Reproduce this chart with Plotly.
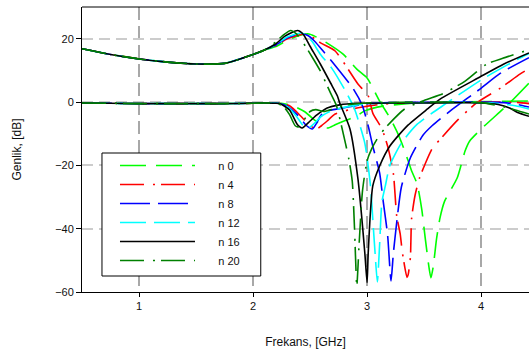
import plotly.graph_objects as go

# Shared low-frequency part of every curve (GHz, dB)
F_COMMON = [0.5, 0.75, 1.0, 1.25, 1.5, 1.75, 2.0, 2.1]
UP_COMMON = [16.8, 15.0, 13.6, 12.6, 12.0, 12.2, 15.0, 16.4]
LOW_COMMON = [-0.3, -0.4, -0.5, -0.5, -0.5, -0.5, -0.4, -0.3]

# Upper response (transmission) per n
f_up_n0 = [2.2, 2.3, 2.42, 2.49, 2.54, 2.65, 2.79, 2.91, 3.0, 3.11, 3.2, 3.27, 3.33, 3.39, 3.44, 3.48,
           3.51, 3.56, 3.58, 3.61, 3.64, 3.68, 3.79, 3.86, 3.9, 4.01, 4.25, 4.42]
db_up_n0 = [17.5, 19.5, 21.2, 21.5, 20.8, 18.6, 15.1, 10.4, 7.6, 0.3, -5.0, -10.0, -15.4, -21.7, -26.0, -34.0,
            -43.0, -55.5, -52.0, -43.0, -36.5, -31.3, -24.0, -15.4, -12.3, -8.2, -0.3, 6.0]

f_up_n4 = [2.2, 2.3, 2.44, 2.52, 2.6, 2.72, 2.92, 3.01, 3.05, 3.13, 3.18, 3.23, 3.26, 3.29, 3.31, 3.35,
           3.36, 3.38, 3.39, 3.42, 3.46, 3.51, 3.57, 3.64, 3.8, 3.96, 4.17, 4.34, 4.42]
db_up_n4 = [17.8, 20.0, 21.4, 20.5, 18.5, 16.1, 5.7, 1.9, -3.5, -8.5, -13.9, -22.4, -36.0, -41.6, -47.6, -55.4,
            -54.6, -49.0, -37.0, -29.6, -24.0, -19.5, -14.8, -11.8, -5.5, -0.3, 4.4, 8.8, 10.5]

f_up_n8 = [2.2, 2.3, 2.42, 2.48, 2.54, 2.63, 2.69, 2.88, 2.96, 3.01, 3.05, 3.11, 3.14, 3.18, 3.21,
           3.23, 3.26, 3.3, 3.38, 3.49, 3.57, 3.73, 3.99, 4.17, 4.42]
db_up_n8 = [18.0, 20.3, 21.6, 21.0, 19.2, 15.4, 12.9, 4.1, -1.3, -7.6, -13.9, -22.4, -31.0, -42.0, -56.5,
            -48.0, -38.0, -27.0, -17.6, -10.5, -7.5, -2.8, 4.1, 9.1, 14.0]

f_up_n12 = [2.2, 2.3, 2.42, 2.47, 2.52, 2.59, 2.69, 2.81, 2.89, 2.98, 3.03, 3.05, 3.07, 3.09,
            3.11, 3.13, 3.16, 3.2, 3.3, 3.44, 3.7, 4.01, 4.32, 4.42]
db_up_n12 = [18.2, 20.5, 21.8, 21.0, 19.0, 15.1, 10.7, 3.5, -2.2, -13.0, -26.5, -37.0, -47.6, -56.8,
             -45.0, -31.6, -26.5, -20.0, -13.0, -7.0, -0.3, 7.2, 13.5, 15.3]

f_up_n16 = [2.2, 2.28, 2.39, 2.44, 2.5, 2.59, 2.68, 2.74, 2.76, 2.85, 2.92, 2.98, 3.0,
            3.01, 3.05, 3.11, 3.2, 3.35, 3.53, 3.64, 3.99, 4.2, 4.42]
db_up_n16 = [18.4, 20.8, 22.6, 21.4, 17.6, 12.0, 6.0, 1.9, -0.3, -8.5, -24.3, -47.6, -57.0,
             -47.6, -26.5, -20.2, -13.9, -7.6, -2.2, 0.9, 7.9, 12.0, 15.5]

f_up_n20 = [2.2, 2.27, 2.33, 2.38, 2.46, 2.53, 2.59, 2.68, 2.73, 2.81, 2.84, 2.87, 2.89, 2.91,
            2.93, 2.96, 3.0, 3.04, 3.1, 3.16, 3.33, 3.5, 3.67, 3.86, 4.05, 4.19, 4.42]
db_up_n20 = [19.0, 21.3, 22.6, 21.5, 17.6, 13.5, 9.8, 2.8, -1.0, -13.0, -18.0, -25.0, -40.0, -58.0,
             -45.0, -28.0, -18.6, -14.8, -11.0, -8.2, -2.2, 0.5, 2.7, 6.6, 12.0, 13.8, 16.5]

# Lower response (reflection) per n
f_low_n0 = [2.25, 2.35, 2.45, 2.55, 2.62, 2.66, 2.72, 2.82, 2.9, 2.98, 3.14, 3.4, 3.8, 4.42]
db_low_n0 = [-0.4, -1.2, -3.0, -6.0, -8.0, -8.2, -7.2, -5.7, -4.6, -2.8, -1.3, -0.4, 0.0, 0.3]

f_low_n4 = [2.22, 2.32, 2.42, 2.5, 2.56, 2.6, 2.65, 2.72, 2.85, 2.96, 3.1, 3.3, 4.3, 4.42]
db_low_n4 = [-0.4, -1.2, -4.5, -7.5, -8.5, -7.5, -6.0, -3.8, -2.4, -1.6, -0.8, -0.3, -0.1, -0.5]

f_low_n8 = [2.22, 2.3, 2.4, 2.47, 2.52, 2.56, 2.6, 2.66, 2.8, 2.98, 3.2, 4.2, 4.35, 4.42]
db_low_n8 = [-0.4, -1.3, -4.5, -7.5, -8.5, -6.5, -4.0, -2.8, -1.8, -0.6, -0.2, -0.2, -1.0, -1.6]

f_low_n12 = [2.22, 2.3, 2.38, 2.44, 2.48, 2.53, 2.6, 2.7, 2.85, 3.0, 3.3, 4.1, 4.3, 4.42]
db_low_n12 = [-0.4, -1.5, -4.5, -7.5, -8.3, -7.0, -4.5, -2.6, -1.3, -0.6, -0.3, -0.3, -1.2, -2.2]

f_low_n16 = [2.2, 2.24, 2.32, 2.39, 2.43, 2.5, 2.56, 2.65, 2.76, 2.91, 3.5, 4.0, 4.15, 4.25, 4.32, 4.42]
db_low_n16 = [-0.4, -0.6, -2.5, -7.2, -8.2, -6.0, -4.1, -1.9, -0.9, -0.4, -0.3, -0.3, -0.8, -1.9, -3.3, -4.5]

f_low_n20 = [2.2, 2.26, 2.32, 2.37, 2.4, 2.45, 2.5, 2.55, 2.62, 2.7, 2.8, 3.0, 4.0, 4.17, 4.3, 4.42]
db_low_n20 = [-0.4, -1.2, -4.0, -7.5, -7.8, -5.5, -3.0, -2.4, -3.0, -2.2, -1.0, -0.3, -0.2, -1.3, -2.5, -3.8]

LABELS = ["n 0", "n 4", "n 8", "n 12", "n 16", "n 20"]
COLORS = ["#00ff00", "#ff0000", "#0000ff", "#00ffff", "#000000", "#008000"]
DASHES = ["26px,10px", "24px,9px,2px,6px", "30px,8px", "26px,8px", "solid", "24px,9px,2px,6px"]

UPPER = [(f_up_n0, db_up_n0), (f_up_n4, db_up_n4), (f_up_n8, db_up_n8),
         (f_up_n12, db_up_n12), (f_up_n16, db_up_n16), (f_up_n20, db_up_n20)]
LOWER = [(f_low_n0, db_low_n0), (f_low_n4, db_low_n4), (f_low_n8, db_low_n8),
         (f_low_n12, db_low_n12), (f_low_n16, db_low_n16), (f_low_n20, db_low_n20)]

# gap between the legend line sample and its label
LABEL_PAD = "\u00a0" * 6

fig = go.Figure()
for name, color, dash, (fu, du), (fl, dl) in zip(LABELS, COLORS, DASHES, UPPER, LOWER):
    style = dict(color=color, width=1.6, dash=dash, shape="spline", smoothing=0.6)
    fig.add_trace(go.Scatter(x=F_COMMON + fu, y=UP_COMMON + du, mode="lines",
                             name=LABEL_PAD + name, legendgroup=name, line=style))
    fig.add_trace(go.Scatter(x=F_COMMON + fl, y=LOW_COMMON + dl, mode="lines", name=name,
                             legendgroup=name, showlegend=False, line=style))

font_family = "Liberation Sans, Arial, sans-serif"
fig.update_layout(
    width=529, height=356,
    margin=dict(l=82, r=0, t=7, b=64),
    paper_bgcolor="white", plot_bgcolor="white",
    font=dict(family=font_family, size=11, color="#111111"),
    showlegend=True,
    legend=dict(x=0.0738, y=0.4947, xanchor="left", yanchor="top",
                bgcolor="rgba(0,0,0,0)", borderwidth=0,
                font=dict(size=11), itemwidth=75, tracegroupgap=0),
    xaxis=dict(range=[0.5, 4.42], tickvals=[1, 2, 3, 4], showline=True, linecolor="black",
               linewidth=1, ticks="outside", ticklen=4, tickcolor="black",
               showgrid=True, gridcolor="#a8a8a8", gridwidth=1.5, griddash="13px,6px",
               zeroline=False,
               title=dict(text="Frekans, [GHz]", font=dict(size=12), standoff=26)),
    yaxis=dict(range=[-60, 30], tickvals=[-60, -40, -20, 0, 20], showline=True,
               linecolor="black", linewidth=1, ticks="outside", ticklen=5, tickcolor="black",
               showgrid=True, gridcolor="#cccccc", gridwidth=1.5, griddash="11px,6px",
               zeroline=False,
               title=dict(text="Genlik, [dB]", font=dict(size=12), standoff=30)),
    shapes=[
        # top frame line
        dict(type="line", xref="paper", yref="paper", x0=0, x1=1, y0=1, y1=1,
             line=dict(color="black", width=1)),
        # legend frame
        dict(type="rect", xref="paper", yref="paper", x0=0.0447, x1=0.3999,
             y0=0.0561, y1=0.4877, layer="above", fillcolor="white",
             line=dict(color="black", width=1)),
    ],
)

fig.write_html("out.html")
